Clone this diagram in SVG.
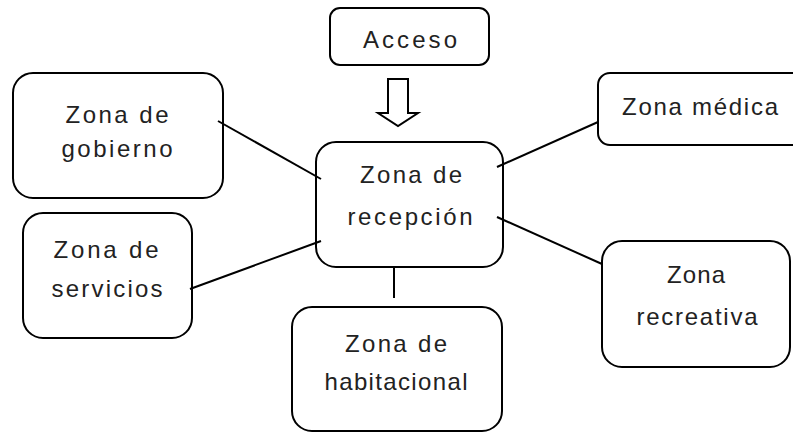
<svg xmlns="http://www.w3.org/2000/svg" width="793" height="432" viewBox="0 0 793 432">
<style>
.box{fill:#fff;stroke:#000;stroke-width:2}
.lbl{font-family:"Liberation Sans",Arial,sans-serif;font-size:24px;fill:#222;text-anchor:middle}
.con{stroke:#000;stroke-width:2;fill:none}
</style>
<rect width="793" height="432" fill="#fff"/>
<g id="acceso">
<rect class="box" x="330" y="8" width="159" height="57" rx="10"/>
<text class="lbl" x="410" y="48" textLength="94" lengthAdjust="spacing">Acceso</text>
</g>
<g id="recepcion">
<rect class="box" x="316" y="142" width="187" height="125" rx="20"/>
<text class="lbl" x="411" y="183" textLength="102" lengthAdjust="spacing">Zona de</text>
<text class="lbl" x="410" y="225" textLength="125" lengthAdjust="spacing">recepción</text>
</g>
<g id="gobierno">
<rect class="box" x="13" y="73" width="210" height="125" rx="20"/>
<text class="lbl" x="117" y="123" textLength="103" lengthAdjust="spacing">Zona de</text>
<text class="lbl" x="117" y="157" textLength="111" lengthAdjust="spacing">gobierno</text>
</g>
<g id="servicios">
<rect class="box" x="23" y="213" width="169" height="125" rx="20"/>
<text class="lbl" x="106" y="258" textLength="105" lengthAdjust="spacing">Zona de</text>
<text class="lbl" x="107" y="297" textLength="111" lengthAdjust="spacing">servicios</text>
</g>
<g id="medica">
<rect class="box" x="598" y="73" width="220" height="72" rx="12"/>
<text class="lbl" x="700" y="115" textLength="156" lengthAdjust="spacing">Zona médica</text>
</g>
<g id="habitacional">
<rect class="box" x="292" y="307" width="210" height="124" rx="20"/>
<text class="lbl" x="396" y="352" textLength="102" lengthAdjust="spacing">Zona de</text>
<text class="lbl" x="396" y="390" textLength="143" lengthAdjust="spacing">habitacional</text>
</g>
<g id="recreativa">
<rect class="box" x="602" y="241" width="188" height="126" rx="20"/>
<text class="lbl" x="696" y="283" textLength="58" lengthAdjust="spacing">Zona</text>
<text class="lbl" x="697" y="325" textLength="121" lengthAdjust="spacing">recreativa</text>
</g>
<g id="connectors">
<line class="con" x1="218" y1="121" x2="321" y2="179"/>
<line class="con" x1="190" y1="289" x2="321" y2="241"/>
<line class="con" x1="497" y1="167" x2="598" y2="122"/>
<line class="con" x1="497" y1="217" x2="602" y2="264"/>
<line class="con" x1="394" y1="267" x2="394" y2="298"/>
<polygon class="con" points="388,79 408,79 408,113 418,113 398,126 378,113 388,113" stroke-linejoin="miter" stroke-width="1.6"/>
</g>
</svg>
